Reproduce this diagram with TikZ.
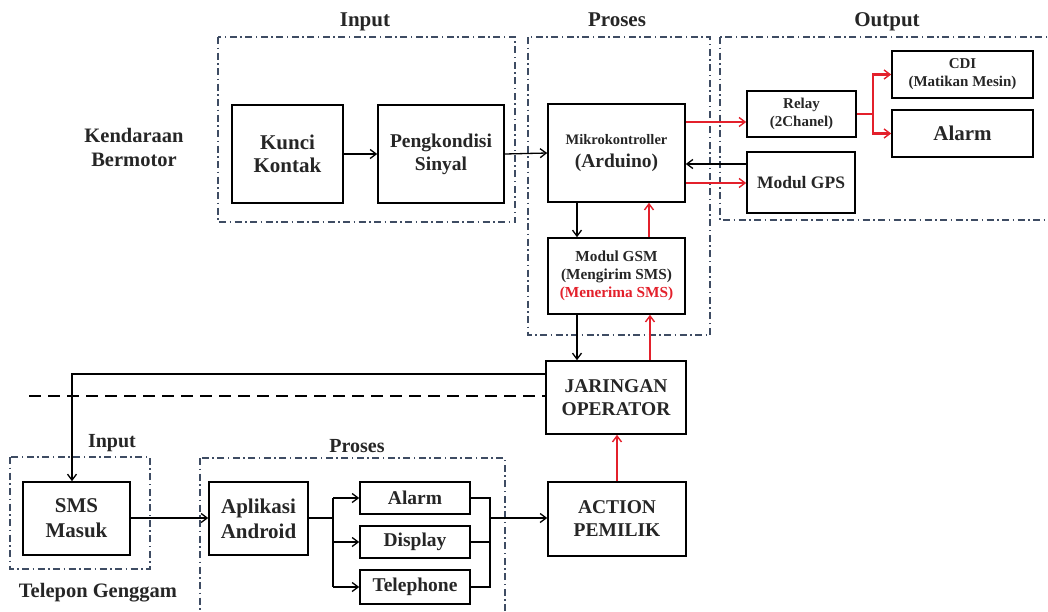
\documentclass[tikz,border=0pt]{standalone}
\usepackage{fontspec}
\setmainfont{Liberation Serif}
\usetikzlibrary{arrows.meta}
\definecolor{grpcol}{HTML}{3E4C63}
\definecolor{redc}{HTML}{E3202B}
\newcommand{\fs}[1]{\fontsize{#1}{#1}\selectfont}
\tikzset{
  blk/.style={draw, line width=1.6pt, align=center, inner sep=0pt, font=\bfseries, text=black!85},
  grp/.style={draw=grpcol, line width=1.2pt, dash pattern=on 7pt off 3.5pt on 1.5pt off 3.5pt},
  arr/.style={line width=1.3pt, -{Straight Barb[length=6pt,width=9pt,line width=1.3pt]}},
  rarr/.style={draw=redc, line width=1.4pt, -{Straight Barb[length=6pt,width=9pt,line width=1.4pt]}},
  lbl/.style={font=\bfseries, text=black!85, align=center, inner sep=0pt},
}
\begin{document}
\begin{tikzpicture}[x=1pt,y=-1pt]
\useasboundingbox (0,0) rectangle (1048,611);
% groups
\draw[grp] (218,37) rectangle (515,222);
\draw[grp] (528,37) rectangle (710,335);
\draw[grp] (720,37) rectangle (1070,220);
\draw[grp] (10,457) rectangle (150,569);
\draw[grp] (200,458) rectangle (505,630);
% labels
\node[lbl, font=\bfseries\fs{21}] (lin1) at (365,22) {Input};
\node[lbl, font=\bfseries\fs{21}] (lpr1) at (617,20) {Proses};
\node[lbl, font=\bfseries\fs{21}] (lout) at (887,22) {Output};
\node[lbl, font=\bfseries\fontsize{20.5}{24}\selectfont] (lkend) at (134,147) {Kendaraan\\Bermotor};
\node[lbl, font=\bfseries\fs{20}] (lin2) at (112,443) {Input};
\node[lbl, font=\bfseries\fs{20}] (lpr2) at (357,446) {Proses};
\node[lbl, font=\bfseries\fs{20.5}] (ltel) at (98,593) {Telepon Genggam};
% top boxes
\node[blk, minimum width=111pt, minimum height=98pt, font=\bfseries\fontsize{21}{23}\selectfont] (kunci) at (287.5,154) {Kunci\\Kontak};
\node[blk, minimum width=126pt, minimum height=98pt, font=\bfseries\fontsize{19.5}{23}\selectfont] (peng) at (441,154) {Pengkondisi\\Sinyal};
\node[blk, minimum width=137pt, minimum height=98pt] (mikro) at (616.5,153) {\fs{14.5}Mikrokontroller\\[9pt]\fs{19.5}(Arduino)};
\node[blk, minimum width=109pt, minimum height=46pt, font=\bfseries\fontsize{15}{18}\selectfont] (relay) at (801.5,114) {Relay\\(2Chanel)};
\node[blk, minimum width=141pt, minimum height=47pt, font=\bfseries\fontsize{15}{18}\selectfont] (cdi) at (962.5,74.5) {CDI\\(Matikan Mesin)};
\node[blk, minimum width=141pt, minimum height=47pt, font=\bfseries\fs{21}] (alarm1) at (962.5,133.5) {Alarm};
\node[blk, minimum width=108pt, minimum height=61pt, font=\bfseries\fs{17.5}] (gps) at (801,182.5) {Modul GPS};
\node[blk, minimum width=137pt, minimum height=76pt, font=\bfseries\fontsize{15.3}{18}\selectfont] (gsm) at (616.5,276) {Modul GSM\\(Mengirim SMS)\\\textcolor{redc}{(Menerima SMS)}};
\node[blk, minimum width=140pt, minimum height=73pt, font=\bfseries\fontsize{19.5}{23}\selectfont] (jar) at (616,397.5) {JARINGAN\\OPERATOR};
\node[blk, minimum width=138pt, minimum height=74pt, font=\bfseries\fontsize{19.5}{23}\selectfont] (action) at (617,519) {ACTION\\PEMILIK};
% bottom boxes
\node[blk, minimum width=107pt, minimum height=73pt, font=\bfseries\fontsize{21}{25}\selectfont] (sms) at (76.5,518.5) {SMS\\Masuk};
\node[blk, minimum width=99pt, minimum height=73pt, font=\bfseries\fontsize{21}{25}\selectfont] (apk) at (258.5,518.5) {Aplikasi\\Android};
\node[blk, minimum width=110pt, minimum height=32pt, font=\bfseries\fs{19.5}] (alarm2) at (415,498) {Alarm};
\node[blk, minimum width=110pt, minimum height=32pt, font=\bfseries\fs{19.5}] (disp) at (415,542) {Display};
\node[blk, minimum width=110pt, minimum height=34pt, font=\bfseries\fs{19.5}] (tel) at (415,587) {Telephone};
% coordinates
\coordinate (rj) at (873,114);
\coordinate (lj) at (333,518);
\coordinate (rj2) at (490,518);
\coordinate (corner) at (72,374);
\coordinate (dstart) at (29,396);
% top connectors
\draw[arr] (kunci.east) -- (peng.west);
\draw[arr] (peng.east) -- (mikro.west);
\draw[rarr] (mikro.east |- 0,122) -- (relay.west |- 0,122);
\draw[arr] (gps.west |- 0,164) -- (mikro.east |- 0,164);
\draw[rarr] (mikro.east |- 0,183) -- (gps.west |- 0,183);
\draw[draw=redc, line width=2.4pt] (relay.east) -- (rj);
\draw[rarr, line width=2.2pt] (rj |- cdi.west) -- (rj |- alarm1.west) -- (alarm1.west);
\draw[rarr, line width=2.2pt] (rj) -- (rj |- cdi.west) -- (cdi.west);
\draw[arr] (mikro.south -| 577,0) -- (gsm.north -| 577,0);
\draw[rarr] (gsm.north -| 649,0) -- (mikro.south -| 649,0);
\draw[arr] (gsm.south -| 577,0) -- (jar.north -| 577,0);
\draw[rarr] (jar.north -| 650,0) -- (gsm.south -| 650,0);
\draw[rarr] (action.north) -- (action.north |- jar.south);
\draw[arr] (jar.west |- corner) -- (corner) -- (sms.north -| corner);
\draw[line width=2.2pt, dash pattern=on 12pt off 7pt] (dstart) -- (jar.west |- dstart);
% bottom connectors
\draw[arr] (sms.east |- lj) -- (apk.west |- lj);
\draw[line width=1.3pt] (apk.east |- lj) -- (lj);
\draw[line width=1.3pt] (lj |- alarm2.west) -- (lj |- tel.west);
\draw[arr] (lj |- alarm2.west) -- (alarm2.west);
\draw[arr] (lj |- disp.west) -- (disp.west);
\draw[arr] (lj |- tel.west) -- (tel.west);
\draw[line width=1.3pt] (alarm2.east) -- (rj2 |- alarm2.east) -- (rj2 |- tel.east) -- (tel.east);
\draw[line width=1.3pt] (disp.east) -- (rj2 |- disp.east);
\draw[arr] (rj2) -- (action.west |- rj2);
\end{tikzpicture}
\end{document}
